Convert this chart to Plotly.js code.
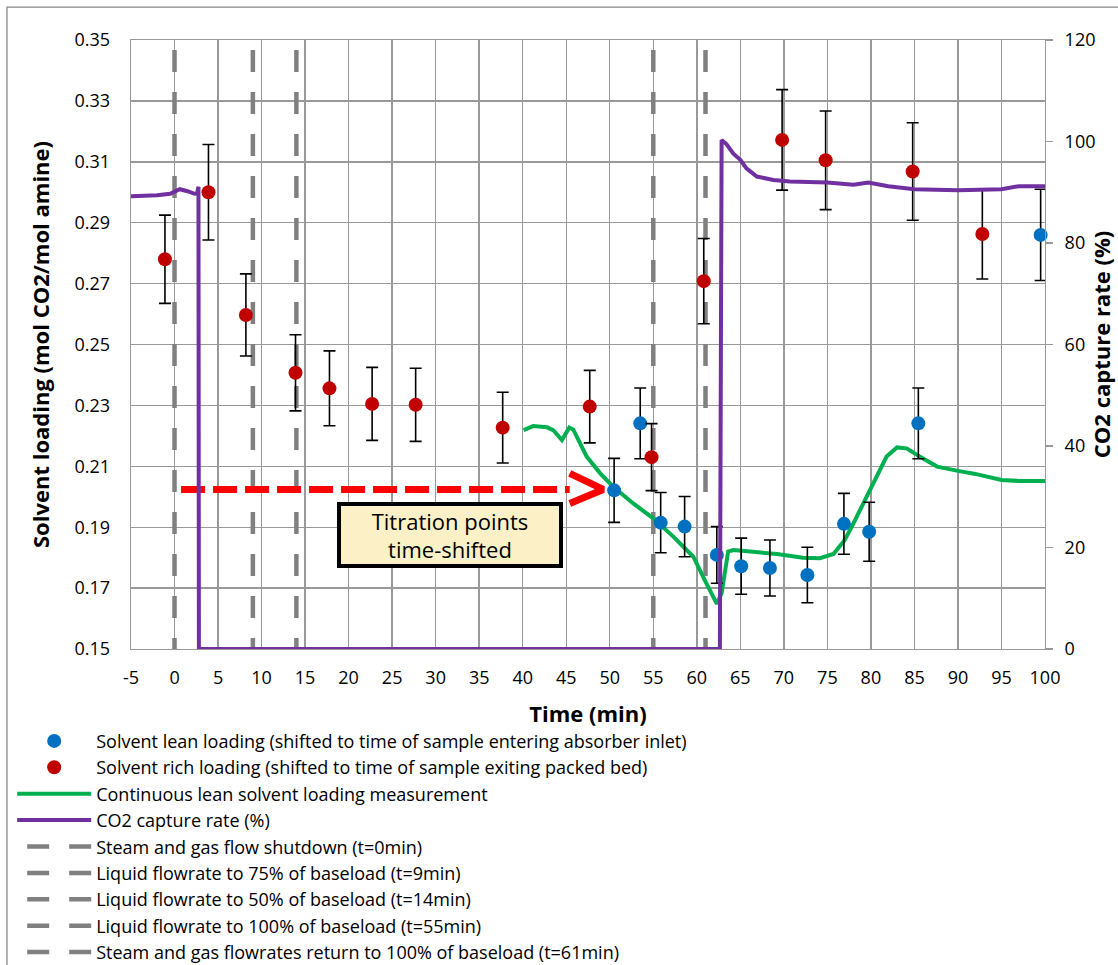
<!DOCTYPE html>
<html><head><meta charset="utf-8">
<script src="https://cdn.plot.ly/plotly-3.0.1.min.js"></script>
<style>html,body{margin:0;padding:0;background:#fff}#chart{width:1118px;height:965px}</style>
</head><body><div id="chart"></div>
<script>
// Solvent lean loading (blue points)
const leanX   = [50.5, 53.5, 55.85, 58.6, 62.3, 65.1, 68.4, 72.7, 76.9, 79.8, 85.45, 99.5];
const leanY   = [0.2021, 0.2241, 0.1915, 0.1902, 0.1809, 0.1772, 0.1766, 0.1743, 0.1911, 0.1885, 0.2241, 0.2860];
const leanErr = [0.0105, 0.0116, 0.0099, 0.0099, 0.0093, 0.0092, 0.0092, 0.0091, 0.0100, 0.0097, 0.0116, 0.0150];

// Solvent rich loading (red points)
const richX   = [-1.1, 3.9, 8.2, 13.9, 17.8, 22.7, 27.7, 37.7, 47.7, 54.8, 60.8, 69.8, 74.8, 84.8, 92.8];
const richY   = [0.2780, 0.3000, 0.2597, 0.2407, 0.2356, 0.2305, 0.2302, 0.2227, 0.2296, 0.2130, 0.2708, 0.3172, 0.3105, 0.3068, 0.2863];
const richErr = [0.0145, 0.0157, 0.0135, 0.0125, 0.0123, 0.0120, 0.0120, 0.0116, 0.0119, 0.0110, 0.0140, 0.0165, 0.0162, 0.0160, 0.0148];

// Continuous lean solvent loading measurement (green line)
const contX = [40.1, 41.2, 42.8, 43.5, 44.5, 45.35, 45.8, 47.35, 48.9, 50.4, 52.7, 55.0, 57.3, 59.6, 60.9, 62.3, 62.85, 63.6, 64.2, 66.5, 69.2, 72.2, 74.15, 75.7, 77.0, 78.0, 79.9, 81.8, 83.0, 84.1, 85.6, 87.6, 90, 92, 95, 97, 100];
const contY = [0.2219, 0.2232, 0.2228, 0.2219, 0.2186, 0.2227, 0.2221, 0.2132, 0.2077, 0.2033, 0.1978, 0.1929, 0.1869, 0.1803, 0.1727, 0.1648, 0.1683, 0.1820, 0.1825, 0.1820, 0.1812, 0.1800, 0.1798, 0.1812, 0.1858, 0.1913, 0.2022, 0.2132, 0.2162, 0.2159, 0.2132, 0.2099, 0.2085, 0.2075, 0.2055, 0.2052, 0.2052];

// CO2 capture rate (%) (purple line, right axis)
const captureX = [-5, -2, -0.5, 0.6, 1.5, 2.3, 2.6, 2.75, 2.8, 62.65, 62.85, 63.4, 64.2, 65.0, 65.7, 66.9, 68.8, 70.7, 75, 78, 79.7, 82, 85, 90, 95, 97, 100];
const captureY = [89.2, 89.4, 89.7, 90.6, 90.2, 89.7, 89.8, 91.1, 0, 0, 100.3, 99.5, 97.6, 96.4, 94.7, 93.1, 92.4, 92.1, 91.9, 91.5, 91.9, 91.2, 90.6, 90.4, 90.6, 91.2, 91.2];

// Event markers (vertical dashed lines)
const eventTimes = [0, 9, 14, 55, 61];
const eventNames = [
  'Steam and gas flow shutdown (t=0min)',
  'Liquid flowrate to 75% of baseload (t=9min)',
  'Liquid flowrate to 50% of baseload (t=14min)',
  'Liquid flowrate to 100% of baseload (t=55min)',
  'Steam and gas flowrates return to 100% of baseload (t=61min)'
];

// Time-shift arrow
const arrowX = [0.75, 45.4];
const arrowY = [0.2024, 0.2024];
const arrowHeadX = [45.4, 49.25, 45.4];
const arrowHeadY = [0.2077, 0.2024, 0.1978];

// Axes and tick labels
const xRange = [-5, 100];
const yRange = [0.15, 0.35];
const y2Range = [0, 120];
const xTickVals = [-5, 0, 5, 10, 15, 20, 25, 30, 35, 40, 45, 50, 55, 60, 65, 70, 75, 80, 85, 90, 95, 100];
const xTickText = ['-5', '0', '5', '10', '15', '20', '25', '30', '35', '40', '45', '50', '55', '60', '65', '70', '75', '80', '85', '90', '95', '100'];

const FONT = '"Open Sans", Lato, sans-serif';
const traces = [];

eventTimes.forEach((t, i) => {
  traces.push({
    type: 'scatter', mode: 'lines', x: [t, t], y: [yRange[1], yRange[0]],
    name: eventNames[i], legendrank: 5 + i, legendgroup: 'g' + (5 + i),
    line: {color: '#808080', width: 4.5, dash: '0px,10px,22px,10px'},
    hoverinfo: 'skip'
  });
});

traces.push({
  type: 'scatter', mode: 'lines', x: arrowX, y: arrowY, showlegend: false, hoverinfo: 'skip',
  line: {color: '#FF0000', width: 7, dash: '24px,8px'}
});
traces.push({
  type: 'scatter', mode: 'lines', x: arrowHeadX, y: arrowHeadY, showlegend: false, hoverinfo: 'skip',
  line: {color: '#FF0000', width: 7}
});

traces.push({
  type: 'scatter', mode: 'lines', x: contX, y: contY,
  name: 'Continuous lean solvent loading measurement', legendrank: 3, legendgroup: 'g3',
  line: {color: '#00B050', width: 4}
});
traces.push({
  type: 'scatter', mode: 'markers', x: leanX, y: leanY, cliponaxis: false,
  name: 'Solvent lean loading (shifted to time of sample entering absorber inlet)', legendrank: 1, legendgroup: 'g1',
  marker: {color: '#0070C0', size: 14},
  error_y: {type: 'data', array: leanErr, visible: true, color: '#000', thickness: 1.6, width: 6}
});
traces.push({
  type: 'scatter', mode: 'markers', x: richX, y: richY, cliponaxis: false,
  name: 'Solvent rich loading (shifted to time of sample exiting packed bed)', legendrank: 2, legendgroup: 'g2',
  marker: {color: '#C00000', size: 14},
  error_y: {type: 'data', array: richErr, visible: true, color: '#000', thickness: 1.6, width: 6}
});
traces.push({
  type: 'scatter', mode: 'lines', x: captureX, y: captureY, yaxis: 'y2',
  name: 'CO2 capture rate (%)', legendrank: 4, legendgroup: 'g4',
  line: {color: '#7030A0', width: 4}
});

const gridC = '#999999';
const layout = {
  width: 1118, height: 965,
  margin: {l: 131, r: 73, t: 40, b: 316, autoexpand: false},
  paper_bgcolor: '#fff', plot_bgcolor: '#fff',
  font: {family: FONT, color: '#000', size: 16},
  showlegend: true,
  legend: {
    x: -0.130, y: -0.121, xanchor: 'left', yanchor: 'top',
    traceorder: 'grouped', tracegroupgap: 0, itemwidth: 74,
    font: {family: FONT, size: 18, color: '#000'}, bgcolor: 'rgba(0,0,0,0)'
  },
  xaxis: {
    range: xRange, tickvals: xTickVals, ticktext: xTickText, showgrid: true, gridcolor: gridC, gridwidth: 1.4,
    zeroline: false, showline: true, linecolor: gridC, linewidth: 1.4, mirror: true,
    ticks: '', ticklabelstandoff: 12, tickfont: {family: FONT, size: 18},
    title: {text: '<b>Time (min)</b>', font: {family: FONT, size: 22}, standoff: 18}
  },
  yaxis: {
    range: yRange, tick0: 0.15, dtick: 0.02, tickformat: '.2f', showgrid: true, gridcolor: gridC, gridwidth: 1.4,
    zeroline: false, showline: true, linecolor: gridC, linewidth: 1.4, mirror: true,
    ticks: '', ticklabelstandoff: 16, tickfont: {family: FONT, size: 18},
    title: {text: '<b>Solvent loading (mol CO2/mol amine)</b>', font: {family: FONT, size: 22}, standoff: 18}
  },
  yaxis2: {
    overlaying: 'y', side: 'right', range: y2Range, tick0: 0, dtick: 20, showgrid: false, zeroline: false,
    ticks: 'outside', ticklen: 7, tickcolor: gridC, tickwidth: 1.4, ticklabelstandoff: 8,
    tickfont: {family: FONT, size: 18},
    title: {text: '<b>CO2 capture rate (%)</b>', font: {family: FONT, size: 22}, standoff: 0}
  },
  annotations: [{
    x: 31.7, y: 0.1876, xref: 'x', yref: 'y', showarrow: false,
    text: 'Titration points<br>time-shifted',
    font: {family: FONT, size: 22, color: '#000'},
    bgcolor: '#FBF0C6', bordercolor: '#000', borderwidth: 4, borderpad: 0,
    width: 218, height: 58
  }],
  shapes: [{
    type: 'rect', xref: 'paper', yref: 'paper',
    x0: -0.1357, x1: 1.09, y0: -0.6, y1: 1.054,
    line: {color: '#888888', width: 1.3}, fillcolor: 'rgba(0,0,0,0)', layer: 'below'
  }]
};

Plotly.newPlot('chart', traces, layout, {displayModeBar: false, staticPlot: true});
</script>
</body></html>
